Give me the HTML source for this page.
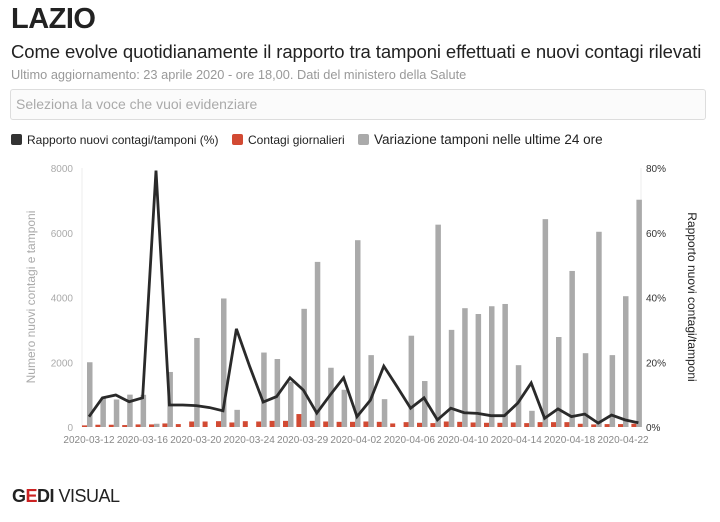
<!DOCTYPE html>
<html><head><meta charset="utf-8"><style>
body{margin:0;width:720px;height:522px;background:#fff;font-family:"Liberation Sans",sans-serif;overflow:hidden;position:relative}
.t{position:absolute;left:11px;top:3px;font-size:29px;font-weight:bold;color:#222;letter-spacing:-0.5px}
.s{position:absolute;left:11px;top:41px;font-size:18.5px;color:#222;letter-spacing:-0.1px}
.u{position:absolute;left:11px;top:67px;font-size:12.8px;color:#999}
.box{position:absolute;left:10px;top:89px;width:694px;height:29px;border:1px solid #ddd;border-radius:3px;background:#fbfbfb}
.box span{position:absolute;left:5px;top:6px;font-size:14px;color:#aaa}
.lg{position:absolute;top:133px;color:#222;white-space:nowrap}
.lg i{display:inline-block;width:11px;height:11px;border-radius:2px;vertical-align:-1px;margin-right:5px}
</style></head><body>
<div class="t">LAZIO</div>
<div class="s">Come evolve quotidianamente il rapporto tra tamponi effettuati e nuovi contagi rilevati</div>
<div class="u">Ultimo aggiornamento: 23 aprile 2020 - ore 18,00. Dati del ministero della Salute</div>
<div class="box"><span>Seleziona la voce che vuoi evidenziare</span></div>
<div class="lg" style="left:11px;font-size:12px"><i style="background:#333"></i>Rapporto nuovi contagi/tamponi (%)</div>
<div class="lg" style="left:232px;font-size:12px"><i style="background:#d24a33"></i>Contagi giornalieri</div>
<div class="lg" style="left:358px;font-size:13.5px;top:132px"><i style="background:#aaa"></i>Variazione tamponi nelle ultime 24 ore</div>
<svg id="c" width="720" height="522" style="position:absolute;left:0;top:0"></svg>
<div style="position:absolute;left:12px;top:486px;font-size:18px;color:#222;letter-spacing:-0.5px"><b>G<span style="color:#c22">E</span>DI</b> VISUAL</div>
<script>
var g=[2000,900,850,1000,995,100,1700,0,2750,0,3970,530,0,2300,2100,1400,3650,5100,1830,1150,5770,2220,860,0,2820,1420,6250,3000,3670,3490,3730,3800,1910,500,6420,2780,4820,2280,6030,2220,4040,7020];
var r=[50,70,70,60,80,80,110,90,170,170,180,140,180,170,190,190,400,190,170,160,160,170,160,110,150,130,120,170,160,140,130,130,140,120,150,150,150,100,80,90,90,100];
var l=[3.2,9,9.9,7.8,9,79.2,6.8,6.8,6.6,6,5,30.3,18.6,7.7,9.4,15.2,11.4,4.3,9.9,15.2,3.2,8.3,18.8,12.4,5.8,9,2.2,5.8,4.4,4.2,3.5,3.5,7.4,13.6,2.7,5.6,3.2,4,1.2,3.7,2.2,1.3];
var y0=427,h=259,s='';
s+='<line x1="82" y1="168" x2="82" y2="427" stroke="#eee"/><line x1="641" y1="168" x2="641" y2="427" stroke="#eee"/>';
[0,2000,4000,6000,8000].forEach(function(v){var y=y0-v/8000*h;s+='<text x="73" y="'+(y+4)+'" font-size="10" fill="#aaa" text-anchor="end">'+v+'</text>';});
[0,20,40,60,80].forEach(function(v){var y=y0-v/80*h;s+='<text x="646" y="'+(y+4)+'" font-size="10" fill="#333">'+v+'%</text>';});
for(var i=0;i<42;i++){var c=87+13.4*i;
 s+='<rect x="'+(c-5)+'" y="'+(y0-r[i]/8000*h)+'" width="5" height="'+(r[i]/8000*h)+'" fill="#d24a33"/>';
 s+='<rect x="'+c+'" y="'+(y0-g[i]/8000*h)+'" width="5.5" height="'+(g[i]/8000*h)+'" fill="#aaa"/>';}
var p=l.map(function(v,i){return (87+13.4*i+2)+','+(y0-v/80*h)}).join(' ');
s+='<polyline points="'+p+'" fill="none" stroke="#2a2a2a" stroke-width="2.8" stroke-linejoin="miter"/>';
var labs=['2020-03-12','2020-03-16','2020-03-20','2020-03-24','2020-03-29','2020-04-02','2020-04-06','2020-04-10','2020-04-14','2020-04-18','2020-04-22'];
labs.forEach(function(t,k){s+='<text x="'+(89+53.4*k)+'" y="443" font-size="10" fill="#888" text-anchor="middle">'+t+'</text>';});
s+='<text transform="translate(35,297) rotate(-90)" font-size="12" fill="#aaa" text-anchor="middle">Numero nuovi contagi e tamponi</text>';
s+='<text transform="translate(688,297) rotate(90)" font-size="12" fill="#222" text-anchor="middle">Rapporto nuovi contagi/tamponi</text>';
document.getElementById('c').innerHTML=s;
</script>
</body></html>
